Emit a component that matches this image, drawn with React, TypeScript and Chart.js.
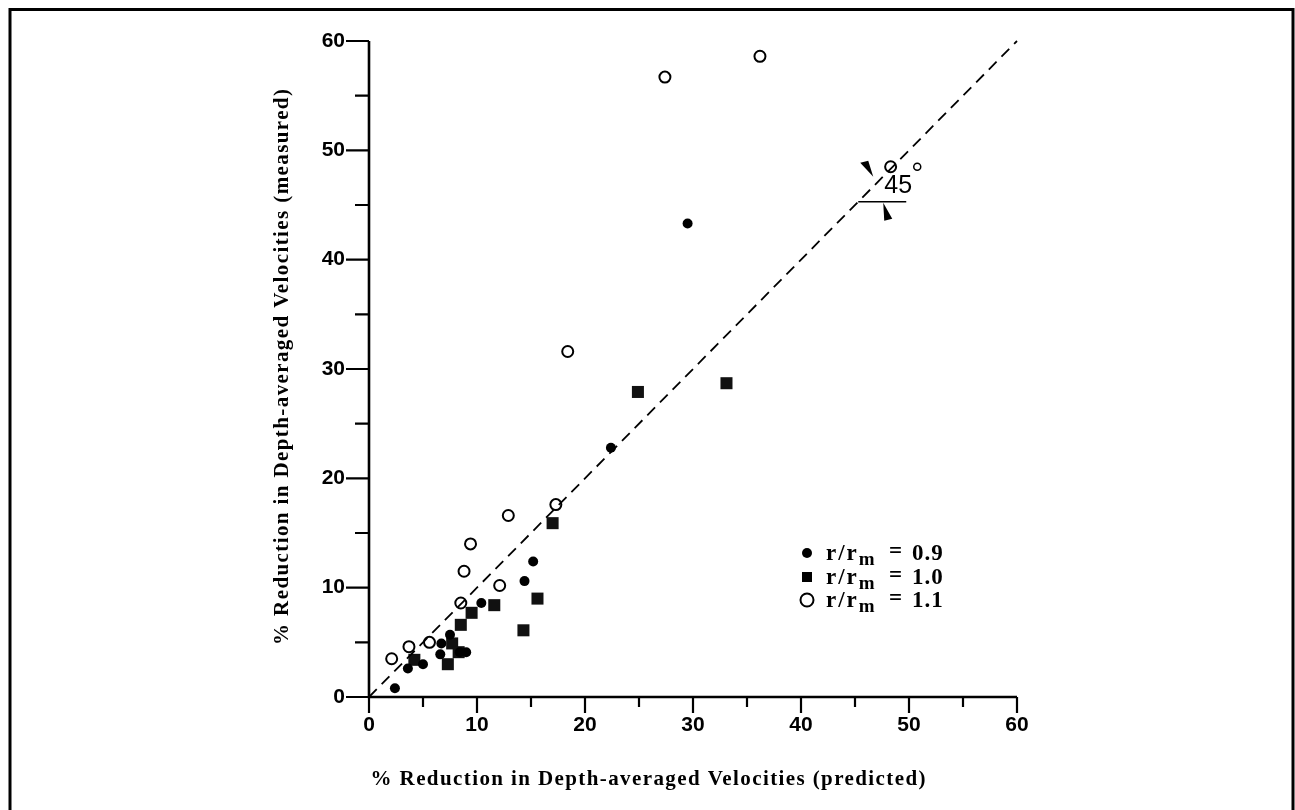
import React, { useEffect, useRef } from "react";
import { Chart, registerables } from "chart.js";

Chart.register(...registerables);

// ---- data ----
const tickValues = [0, 10, 20, 30, 40, 50, 60];
const minorTickValues = [5, 15, 25, 35, 45, 55];

const r09X = [2.4, 3.6, 5.0, 6.6, 6.7, 7.5, 8.4, 9.0, 10.4, 14.4, 15.2, 22.4, 29.5];
const r09Y = [0.8, 2.6, 3.0, 3.9, 4.9, 5.7, 4.1, 4.1, 8.6, 10.6, 12.4, 22.8, 43.3];

const r10X = [4.2, 7.3, 7.7, 8.3, 8.5, 9.5, 11.6, 14.3, 15.6, 17.0, 24.9, 33.1];
const r10Y = [3.4, 3.0, 4.9, 4.1, 6.6, 7.7, 8.4, 6.1, 9.0, 15.9, 27.9, 28.7];

const r11X = [2.1, 3.7, 5.6, 8.5, 8.8, 9.4, 12.1, 12.9, 17.3, 18.4, 27.4, 36.2, 48.3];
const r11Y = [3.5, 4.6, 5.0, 8.6, 11.5, 14.0, 10.2, 16.6, 17.6, 31.6, 56.7, 58.6, 48.5];

const refLineX = [0, 60];
const refLineY = [0, 60];

const legendValues = ["0.9", "1.0", "1.1"];
const xTitle = "% Reduction in Depth-averaged Velocities (predicted)";
const yTitle = "% Reduction in Depth-averaged Velocities (measured)";
const angleText = "45";
const angleAnchor = 45.3;

const toPts = (xs: number[], ys: number[]) => xs.map((x, i) => ({ x, y: ys[i] }));

const W = 1295;
const H = 810;

function spacedText(ctx: any, text: string, cx: number, cy: number, spacing: number) {
  ctx.letterSpacing = spacing + "px";
  ctx.textAlign = "center";
  ctx.textBaseline = "middle";
  ctx.fillText(text, cx + spacing / 2, cy);
  ctx.letterSpacing = "0px";
}

const overlayPlugin = {
  id: "overlay",
  afterDraw(chart: any) {
    const ctx = chart.ctx;
    const xs = chart.scales.x;
    const ys = chart.scales.y;
    const x0 = xs.getPixelForValue(0);
    const x60 = xs.getPixelForValue(60);
    const y0 = ys.getPixelForValue(0);
    const y60 = ys.getPixelForValue(60);
    ctx.save();
    ctx.strokeStyle = "#000";
    ctx.fillStyle = "#000";
    ctx.lineCap = "butt";

    // frame
    ctx.lineWidth = 3;
    ctx.beginPath();
    ctx.moveTo(10, H);
    ctx.lineTo(10, 9.5);
    ctx.lineTo(1293, 9.5);
    ctx.lineTo(1293, H);
    ctx.stroke();

    // axes
    ctx.lineWidth = 2.6;
    ctx.beginPath();
    ctx.moveTo(x0, y60);
    ctx.lineTo(x0, y0);
    ctx.lineTo(x60, y0);
    ctx.stroke();

    // ticks
    ctx.lineWidth = 2.2;
    ctx.beginPath();
    tickValues.forEach((v) => {
      const py = ys.getPixelForValue(v);
      ctx.moveTo(x0, py);
      ctx.lineTo(x0 - 23, py);
      const px = xs.getPixelForValue(v);
      ctx.moveTo(px, y0);
      ctx.lineTo(px, y0 + 16);
    });
    minorTickValues.forEach((v) => {
      const py = ys.getPixelForValue(v);
      ctx.moveTo(x0, py);
      ctx.lineTo(x0 - 14, py);
      const px = xs.getPixelForValue(v);
      ctx.moveTo(px, y0);
      ctx.lineTo(px, y0 + 10);
    });
    ctx.stroke();

    // axis titles
    ctx.font = "bold 21px 'Liberation Serif'";
    spacedText(ctx, xTitle, 648, 780, 1.4);
    ctx.save();
    ctx.translate(283, 367);
    ctx.rotate(-Math.PI / 2);
    spacedText(ctx, yTitle, 0, 0, 1.4);
    ctx.restore();

    // legend
    const lx = 807;
    const rows = [553, 577, 600];
    rows.forEach((ry, i) => {
      ctx.beginPath();
      if (i === 0) {
        ctx.arc(lx, ry, 5, 0, Math.PI * 2);
        ctx.fill();
      } else if (i === 1) {
        ctx.fillRect(lx - 5, ry - 5, 10, 10);
      } else {
        ctx.lineWidth = 2;
        ctx.arc(lx, ry, 6.5, 0, Math.PI * 2);
        ctx.stroke();
      }
      ctx.textAlign = "left";
      ctx.textBaseline = "alphabetic";
      ctx.font = "bold 23px 'Liberation Serif'";
      ctx.letterSpacing = "2px";
      ctx.fillText("r/r", 826, ry + 7);
      const rw = ctx.measureText("r/r").width;
      ctx.letterSpacing = "0px";
      ctx.font = "bold 19px 'Liberation Serif'";
      ctx.fillText("m", 826 + rw, ry + 12);
      ctx.font = "bold 23px 'Liberation Serif'";
      ctx.fillText("=", 889, ry + 5);
      ctx.letterSpacing = "1px";
      ctx.fillText(legendValues[i], 912, ry + 7);
      ctx.letterSpacing = "0px";
    });

    // 45 degree annotation
    const ax = xs.getPixelForValue(angleAnchor);
    const ay = ys.getPixelForValue(angleAnchor);
    ctx.lineWidth = 1.6;
    ctx.beginPath();
    ctx.moveTo(ax, ay);
    ctx.lineTo(ax + 48, ay);
    ctx.stroke();
    // upper arrow
    ctx.beginPath();
    ctx.moveTo(ax + 15, ay - 25);
    ctx.lineTo(ax + 2, ay - 39);
    ctx.lineTo(ax + 10, ay - 41);
    ctx.closePath();
    ctx.fill();
    // lower arrow
    ctx.beginPath();
    ctx.moveTo(ax + 25, ay + 1);
    ctx.lineTo(ax + 26, ay + 19);
    ctx.lineTo(ax + 34, ay + 17);
    ctx.closePath();
    ctx.fill();
    ctx.font = "25px 'Liberation Sans'";
    ctx.textAlign = "left";
    ctx.textBaseline = "alphabetic";
    ctx.fillText(angleText, ax + 26, ay - 9);
    ctx.lineWidth = 1.5;
    ctx.beginPath();
    ctx.arc(ax + 59, ay - 35, 3.5, 0, Math.PI * 2);
    ctx.stroke();

    ctx.restore();
  },
};

export default function App() {
  const canvasRef = useRef<HTMLCanvasElement | null>(null);

  useEffect(() => {
    if (!canvasRef.current) return;
    const tickFont = { family: "'Liberation Sans', Arial, sans-serif", size: 21, weight: "bold" as const };
    const chart = new Chart(canvasRef.current, {
      type: "scatter",
      data: {
        datasets: [
          {
            label: "45 line",
            data: toPts(refLineX, refLineY),
            showLine: true,
            borderColor: "#000",
            borderWidth: 1.8,
            borderDash: [11, 7],
            pointRadius: 0,
            fill: false,
          },
          {
            label: "r/rm = 0.9",
            data: toPts(r09X, r09Y),
            pointStyle: "circle",
            pointRadius: 5,
            backgroundColor: "#000",
            borderColor: "#000",
            borderWidth: 0,
          },
          {
            label: "r/rm = 1.0",
            data: toPts(r10X, r10Y),
            pointStyle: "rect",
            pointRadius: 8.5,
            backgroundColor: "#111",
            borderColor: "#111",
            borderWidth: 0,
          },
          {
            label: "r/rm = 1.1",
            data: toPts(r11X, r11Y),
            pointStyle: "circle",
            pointRadius: 5.5,
            backgroundColor: "rgba(0,0,0,0)",
            borderColor: "#000",
            borderWidth: 2,
          },
        ],
      },
      options: {
        responsive: false,
        animation: false,
        devicePixelRatio: 1,
        clip: false as any,
        layout: { padding: { left: 0, right: 278, top: 41, bottom: 0 } },
        plugins: {
          legend: { display: false },
          tooltip: { enabled: false },
        },
        scales: {
          x: {
            type: "linear",
            min: 0,
            max: 60,
            grid: { display: false, drawTicks: false },
            border: { display: false },
            ticks: { stepSize: 10, font: tickFont, color: "#000", padding: 16 },
            afterFit: (s: any) => {
              s.height = 113;
            },
          },
          y: {
            type: "linear",
            min: 0,
            max: 60,
            grid: { display: false, drawTicks: false },
            border: { display: false },
            ticks: { stepSize: 10, font: tickFont, color: "#000", padding: 24 },
            afterFit: (s: any) => {
              s.width = 369;
            },
          },
        },
      },
      plugins: [overlayPlugin],
    });
    return () => chart.destroy();
  }, []);

  return (
    <div style={{ position: "absolute", left: 0, top: 0, width: W, height: H, background: "#fff" }}>
      <canvas ref={canvasRef} width={W} height={H} style={{ width: W, height: H, display: "block" }} />
    </div>
  );
}
